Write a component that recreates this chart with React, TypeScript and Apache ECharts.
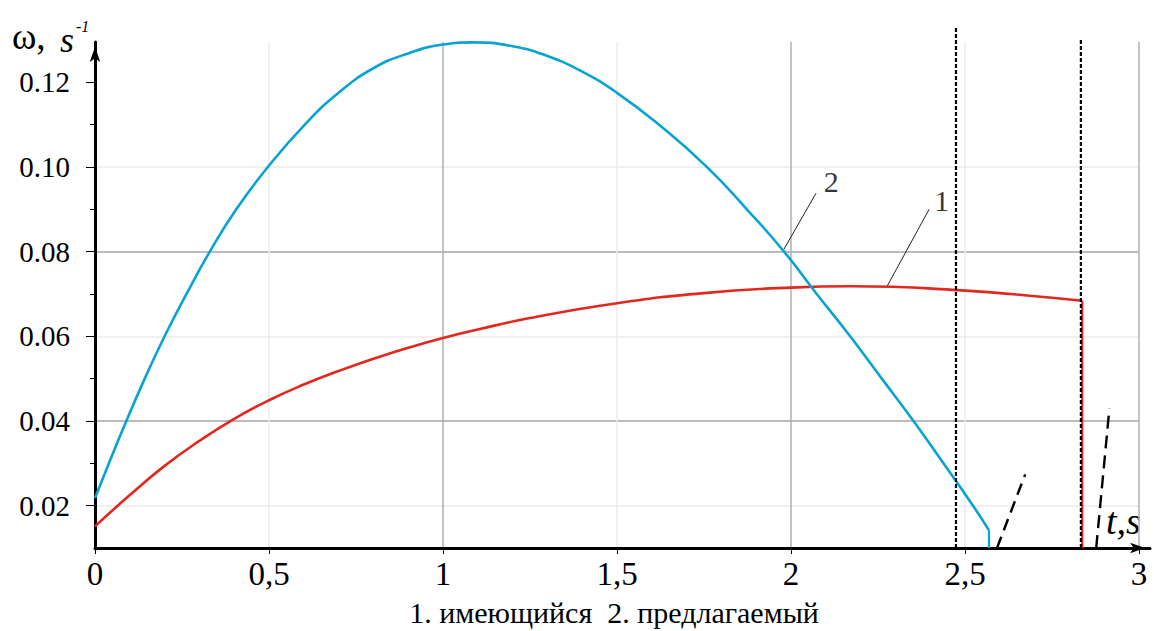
import React, { useEffect, useRef } from "react";
import * as echarts from "echarts";

// Axis ranges: time t, s and angular velocity ω, s^-1
const T_MIN = 0;
const T_MAX = 3;
const T_STEP = 0.5;
const W_MIN = 0.01;
const W_MAX = 0.1295;
const W_STEP = 0.01;

const W_MAJOR_TICKS = [0.02, 0.04, 0.06, 0.08, 0.1, 0.12];
const W_MINOR_TICKS = [0.03, 0.05, 0.07, 0.09, 0.11];

// 1. имеющийся
const existingCurve: [number, number][] = [
  [0, 0.0151], [0.1, 0.0225], [0.2, 0.0294], [0.3, 0.0353], [0.4, 0.0405],
  [0.5, 0.0449], [0.6, 0.0486], [0.7, 0.0518], [0.8, 0.0547], [0.9, 0.0573],
  [1.0, 0.0596], [1.1, 0.0616], [1.25, 0.0643], [1.5, 0.0678], [1.75, 0.0702],
  [2.0, 0.0715], [2.17, 0.0718], [2.48, 0.0709], [2.75, 0.0691], [2.837, 0.0684],
];
const existingStop: [number, number][] = [[2.837, 0.0684], [2.837, 0.01]];

// 2. предлагаемый
const proposedCurve: [number, number][] = [
  [0, 0.0218], [0.04, 0.03], [0.09, 0.04], [0.143, 0.05], [0.2, 0.06],
  [0.263, 0.07], [0.33, 0.08], [0.406, 0.09], [0.497, 0.1], [0.603, 0.11],
  [0.7, 0.1175], [0.8, 0.1233], [0.9, 0.1268], [1.0, 0.1289], [1.085, 0.1294],
  [1.2, 0.1285], [1.3, 0.1262], [1.4, 0.1225], [1.5, 0.1175], [1.62, 0.11],
  [1.758, 0.1], [1.873, 0.09], [1.98, 0.08], [2.074, 0.07], [2.17, 0.06],
  [2.261, 0.05], [2.352, 0.04], [2.438, 0.03], [2.523, 0.02], [2.569, 0.01415],
];
const proposedStop: [number, number][] = [[2.569, 0.01415], [2.569, 0.01]];

// Stop-time markers and run-out traces
const stopMarkerA: [number, number][] = [[2.474, 0.01], [2.474, 0.1329]];
const stopMarkerB: [number, number][] = [[2.833, 0.01], [2.833, 0.1302]];
const runOutA: [number, number][] = [[2.592, 0.01], [2.673, 0.0274]];
const runOutB: [number, number][] = [[2.877, 0.01], [2.915, 0.043]];

// Curve callouts
const leader1: [number, number][] = [[2.397, 0.09], [2.276, 0.0718]];
const leader2: [number, number][] = [[2.072, 0.0938], [1.98, 0.0806]];
const calloutLabels = [
  { name: "1", value: [2.433, 0.0921] },
  { name: "2", value: [2.116, 0.0965] },
];

const SERIF = "Liberation Serif, Times New Roman, Times, serif";
const RED = "#e2281c";
const BLUE = "#08a3d3";

const thinLine = (data: [number, number][], color: string, width: number, type: any, clip = true) => ({
  type: "line",
  data,
  showSymbol: false,
  symbol: "none",
  silent: true,
  clip,
  lineStyle: { color, width, type },
  z: 3,
});

export default function App() {
  const ref = useRef<HTMLDivElement>(null);

  useEffect(() => {
    if (!ref.current) return;
    const chart = echarts.init(ref.current, undefined, { renderer: "svg" });

    chart.setOption({
      animation: false,
      backgroundColor: "#ffffff",
      textStyle: { fontFamily: SERIF, fontStyle: "normal", fontWeight: "normal" },
      grid: [
        { left: 95, top: 42, width: 1044, height: 506, outerBoundsMode: "none", containLabel: false },
        { left: 95, top: 42, right: 4, height: 506, outerBoundsMode: "none", containLabel: false },
      ],
      xAxis: [
        {
          type: "value",
          gridIndex: 0,
          min: T_MIN,
          max: T_MAX,
          interval: T_STEP,
          axisLine: { show: false },
          axisTick: { show: true, length: 6, lineStyle: { color: "#000", width: 1 } },
          axisLabel: {
            margin: 9,
            fontFamily: SERIF,
            fontStyle: "normal",
            fontWeight: "normal",
            fontSize: 33,
            color: "#000",
            formatter: (v: number) => String(v).replace(".", ","),
          },
          splitLine: {
            show: true,
            lineStyle: { color: ["#b0b0b0", "#ebebeb"], width: 1.5 },
          },
        },
        {
          type: "value",
          gridIndex: 1,
          min: 0,
          max: 1,
          axisLine: {
            show: true,
            symbol: ["none", "arrow"],
            symbolSize: [8, 15],
            symbolOffset: [0, -5],
            lineStyle: { color: "#000", width: 3 },
          },
          axisTick: { show: false },
          axisLabel: { show: false },
          splitLine: { show: false },
        },
      ],
      yAxis: [
        {
          type: "value",
          gridIndex: 0,
          position: "left",
          min: W_MIN,
          max: W_MAX,
          interval: W_STEP,
          axisLine: {
            show: true,
            symbol: ["none", "arrow"],
            symbolSize: [8, 15],
            symbolOffset: [0, -5],
            lineStyle: { color: "#000", width: 3 },
          },
          axisTick: {
            show: true,
            length: 9,
            customValues: W_MAJOR_TICKS,
            lineStyle: { color: "#000", width: 1 },
          },
          axisLabel: {
            margin: 25,
            fontFamily: SERIF,
            fontStyle: "normal",
            fontWeight: "normal",
            fontSize: 29,
            color: "#000",
            customValues: W_MAJOR_TICKS,
            formatter: (v: number) => {
              const k = Math.round(v * 100);
              return k % 2 === 0 && v <= 0.1201 ? v.toFixed(2) : "";
            },
          },
          splitLine: {
            show: true,
            showMinLine: true,
            showMaxLine: false,
            lineStyle: { color: ["#ebebeb", "#a4a4a4"], width: 1.5 },
          },
        },
        {
          type: "value",
          gridIndex: 0,
          position: "left",
          offset: 0,
          min: W_MIN,
          max: W_MAX,
          interval: W_STEP,
          axisLine: { show: false },
          axisTick: {
            show: true,
            length: 5,
            customValues: W_MINOR_TICKS,
            lineStyle: { color: "#000", width: 1 },
          },
          axisLabel: { show: false },
          splitLine: { show: false },
        },
        {
          type: "value",
          gridIndex: 1,
          min: 0,
          max: 1,
          show: false,
        },
      ],
      series: [
        {
          type: "line",
          name: "1. имеющийся",
          data: existingCurve,
          smooth: 0.5,
          showSymbol: false,
          symbol: "none",
          clip: false,
          lineStyle: { color: RED, width: 2.6 },
          z: 4,
        },
        thinLine(existingStop, RED, 2.2, "solid"),
        {
          type: "line",
          name: "2. предлагаемый",
          data: proposedCurve,
          smooth: 0.5,
          showSymbol: false,
          symbol: "none",
          clip: false,
          lineStyle: { color: BLUE, width: 2.6 },
          z: 4,
        },
        thinLine(proposedStop, BLUE, 2.2, "solid"),
        { ...thinLine(stopMarkerA, "#000", 2.2, [4, 2], false), z: 5 },
        { ...thinLine(stopMarkerB, "#000", 2.2, [4, 2], false), z: 5 },
        { ...thinLine(runOutA, "#000", 2.4, [12, 7], false), z: 5 },
        { ...thinLine(runOutB, "#000", 2.4, [13, 7], false), z: 5 },
        thinLine(leader1, "#222", 1, "solid"),
        thinLine(leader2, "#222", 1, "solid"),
        {
          type: "scatter",
          data: calloutLabels,
          symbolSize: 1,
          itemStyle: { color: "rgba(0,0,0,0)" },
          silent: true,
          label: {
            show: true,
            position: "inside",
            formatter: (p: any) => p.name,
            fontFamily: SERIF,
            fontStyle: "normal",
            fontWeight: "normal",
            fontSize: 30,
            color: "#000",
          },
          z: 6,
        },
      ],
      graphic: [
        {
          type: "text",
          left: 12,
          top: 18,
          style: { text: "ω,", fontFamily: SERIF, fontStyle: "normal", fontSize: 37, fill: "#000" },
        },
        {
          type: "text",
          left: 60,
          top: 22,
          style: { text: "s", fontFamily: SERIF, fontStyle: "italic", fontSize: 36, fill: "#000" },
        },
        {
          type: "text",
          left: 76,
          top: 18,
          style: { text: "-1", fontFamily: SERIF, fontStyle: "italic", fontSize: 16, fill: "#000" },
        },
        {
          type: "text",
          left: 1106,
          top: 502,
          style: { text: "t,s", fontFamily: SERIF, fontStyle: "italic", fontSize: 38, fill: "#000" },
        },
        {
          type: "text",
          x: 614,
          y: 612,
          style: {
            text: "1. имеющийся  2. предлагаемый",
            fontFamily: SERIF,
            fontStyle: "normal",
            fontSize: 30,
            fill: "#000",
            align: "center",
            verticalAlign: "middle",
          },
        },
      ],
    });

    return () => chart.dispose();
  }, []);

  return (
    <div
      ref={ref}
      style={{ position: "fixed", left: 0, top: 0, width: 1154, height: 631, background: "#fff" }}
    />
  );
}
